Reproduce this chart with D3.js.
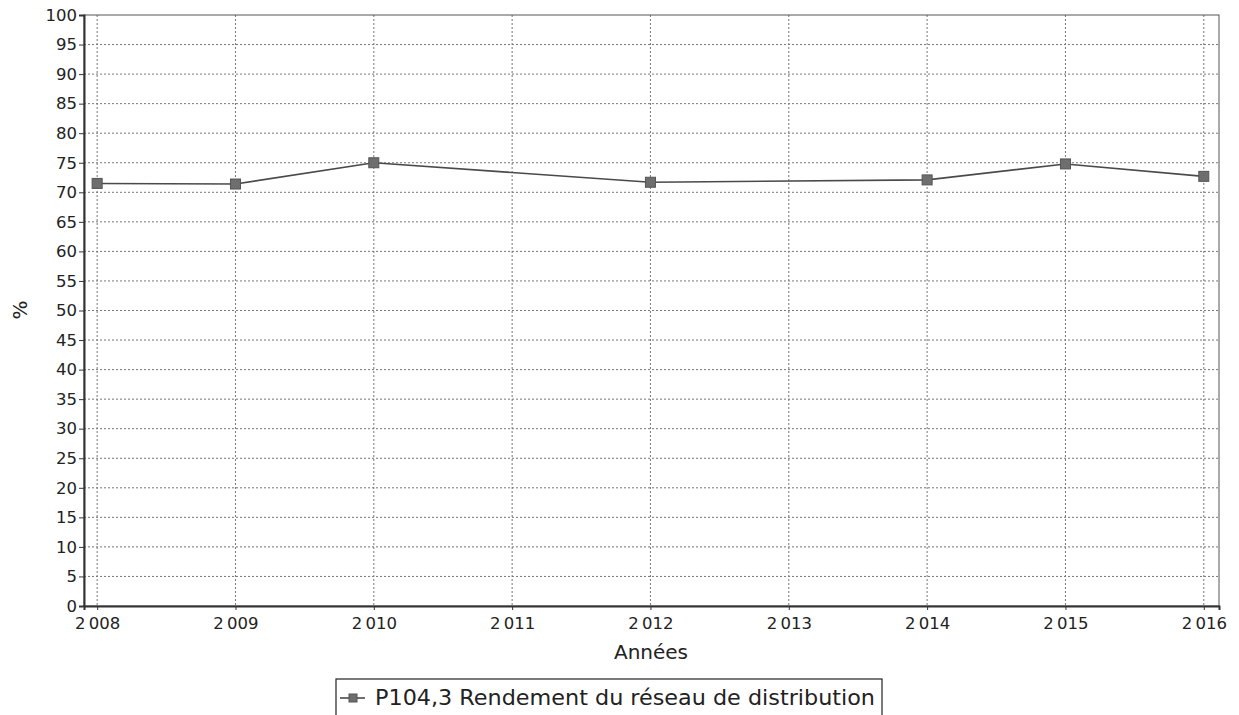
<!DOCTYPE html>
<html><head><meta charset="utf-8">
<script src="https://cdn.jsdelivr.net/npm/d3@7"></script>
<style>body{margin:0;background:#fff;} svg{display:block;}</style>
</head><body>
<svg id="c" width="1239" height="715"></svg>
<script>
const years = [2008, 2009, 2010, 2012, 2014, 2015, 2016];
const values = [71.5, 71.4, 75.0, 71.7, 72.1, 74.8, 72.7];
const xTicks = [2008, 2009, 2010, 2011, 2012, 2013, 2014, 2015, 2016];
const yTicks = d3.range(0, 101, 5);
const seriesName = "P104,3 Rendement du réseau de distribution";
const xTitle = "Années";
const yTitle = "%";

const svg = d3.select("#c");
const L = 84, R = 1219, T = 15, B = 606;
const font = "DejaVu Sans, sans-serif";
const x = d3.scaleLinear().domain([2007.905, 2016.11]).range([L, R]);
const y = d3.scaleLinear().domain([0, 100]).range([B, T]);

// grid
const g = svg.append("g");
g.selectAll(".hg").data(yTicks.filter(d => d > 0 && d < 100)).enter().append("line")
  .attr("x1", L).attr("x2", R).attr("y1", d => y(d)).attr("y2", d => y(d))
  .attr("stroke", "#777").attr("stroke-width", 1).attr("stroke-dasharray", "2,2");
g.selectAll(".vg").data(xTicks).enter().append("line")
  .attr("x1", d => x(d)).attr("x2", d => x(d)).attr("y1", T).attr("y2", B)
  .attr("stroke", "#777").attr("stroke-width", 1).attr("stroke-dasharray", "2,2");

// frame
svg.append("rect").attr("x", L).attr("y", T).attr("width", R - L).attr("height", B - T)
  .attr("fill", "none").attr("stroke", "#555").attr("stroke-width", 1);

// axes
const fmt = d => { const s = String(d); return s.length === 4 ? s[0] + "\u2009" + s.slice(1) : s; };
const yAx = svg.append("g").attr("transform", `translate(${L},0)`)
  .call(d3.axisLeft(y).tickValues(yTicks).tickSize(5).tickPadding(2));
const xAx = svg.append("g").attr("transform", `translate(0,${B})`)
  .call(d3.axisBottom(x).tickValues(xTicks).tickSize(4).tickPadding(7).tickFormat(fmt));
[yAx, xAx].forEach(a => {
  a.selectAll("path").attr("stroke", "#333").attr("stroke-width", 2);
  a.selectAll("line").attr("stroke", "#333");
  a.selectAll("text").attr("font-family", font).attr("font-size", 16.5).attr("fill", "#222");
});

// titles
svg.append("text").attr("x", 651).attr("y", 659).attr("text-anchor", "middle")
  .attr("font-family", font).attr("font-size", 20).attr("fill", "#222").text(xTitle);
svg.append("text").attr("transform", "translate(27,310) rotate(-90)").attr("text-anchor", "middle")
  .attr("font-family", font).attr("font-size", 20).attr("fill", "#222").text(yTitle);

// line
const line = d3.line().x((d, i) => x(years[i])).y(d => y(d));
svg.append("path").datum(values).attr("d", line).attr("fill", "none")
  .attr("stroke", "#4a4a4a").attr("stroke-width", 1.6);
svg.selectAll(".pt").data(values).enter().append("rect")
  .attr("x", (d, i) => x(years[i]) - 5).attr("y", d => y(d) - 5)
  .attr("width", 10).attr("height", 10)
  .attr("fill", "#6e6e6e").attr("stroke", "#555").attr("stroke-width", 1);

// legend
const lg = svg.append("g");
lg.append("rect").attr("x", 336).attr("y", 679).attr("width", 546).attr("height", 40)
  .attr("fill", "#fff").attr("stroke", "#222").attr("stroke-width", 1.2);
lg.append("line").attr("x1", 340).attr("x2", 365).attr("y1", 698).attr("y2", 698)
  .attr("stroke", "#4a4a4a").attr("stroke-width", 1.6);
lg.append("rect").attr("x", 349).attr("y", 694).attr("width", 8).attr("height", 8)
  .attr("fill", "#6e6e6e").attr("stroke", "#555");
lg.append("text").attr("x", 375).attr("y", 705).attr("font-family", font).attr("font-size", 22)
  .attr("fill", "#222").attr("textLength", 500).attr("lengthAdjust", "spacingAndGlyphs").text(seriesName);
</script>
</body></html>
